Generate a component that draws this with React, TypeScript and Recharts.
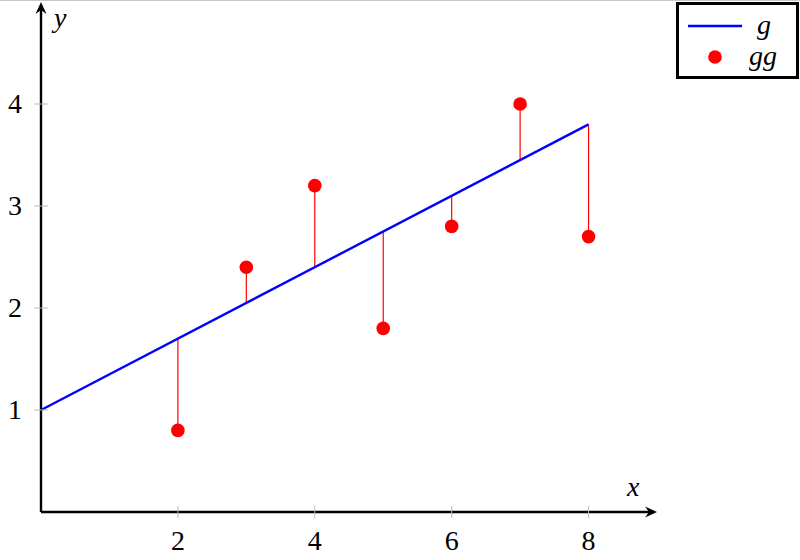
import React from 'react';
import {
  ComposedChart,
  Line,
  Scatter,
  XAxis,
  YAxis,
  ReferenceLine,
} from 'recharts';

// fitted line g (endpoints)
const lineX = [0, 8];
const lineY = [1, 3.8];

// observations gg
const pointX = [2, 3, 4, 5, 6, 7, 8];
const pointY = [0.8, 2.4, 3.2, 1.8, 2.8, 4.0, 2.7];
// value of g at each observation (where the residual stems meet the line)
const fitY = [1.7, 2.05, 2.4, 2.75, 3.1, 3.45, 3.8];

const xTicks = [2, 4, 6, 8];
const yTicks = [1, 2, 3, 4];

const lineData = lineX.map((x, i) => ({ x, y: lineY[i] }));
const pointData = pointX.map((x, i) => ({ x, y: pointY[i] }));

const FONT = '"Liberation Serif", "DejaVu Serif", serif';

const XTick = (props: any) => {
  const { x, y, payload } = props;
  return (
    <g>
      <line x1={x} x2={x} y1={y - 6} y2={y + 6} stroke="#bbb" strokeWidth={1} />
      <text x={x} y={y + 38} textAnchor="middle" fontFamily={FONT} fontSize={28} fill="#000">
        {payload.value}
      </text>
    </g>
  );
};

const YTick = (props: any) => {
  const { x, y, payload } = props;
  return (
    <g>
      <line x1={x - 7} x2={x + 7} y1={y} y2={y} stroke="#bbb" strokeWidth={1} />
      <text x={x - 19} y={y + 9} textAnchor="end" fontFamily={FONT} fontSize={28} fill="#000">
        {payload.value}
      </text>
    </g>
  );
};

const Arrow = (props: any) => {
  const { x1, y1, x2, y2 } = props;
  const dx = x2 - x1;
  const dy = y2 - y1;
  const len = Math.hypot(dx, dy) || 1;
  const ux = dx / len;
  const uy = dy / len;
  const tipX = x2;
  const tipY = y2;
  const baseX = tipX - ux * 12;
  const baseY = tipY - uy * 12;
  const px = -uy * 5.5;
  const py = ux * 5.5;
  const notchX = tipX - ux * 8;
  const notchY = tipY - uy * 8;
  return (
    <g>
      <line x1={x1} y1={y1} x2={tipX - ux * 4} y2={tipY - uy * 4} stroke="#000" strokeWidth={2.4} />
      <path
        d={`M${tipX},${tipY} L${baseX + px},${baseY + py} L${notchX},${notchY} L${baseX - px},${baseY - py} Z`}
        fill="#000"
      />
    </g>
  );
};

const Dot = (props: any) => {
  const { cx, cy } = props;
  return <circle cx={cx} cy={cy} r={6.8} fill="#ff0000" />;
};

export default function App() {
  return (
    <div style={{ position: 'absolute', left: 0, top: 0, width: 800, height: 560, background: '#fff' }}>
      <div style={{ position: 'absolute', left: 0, top: 0, width: 800, height: 1, background: '#c8c8c8' }} />
      <ComposedChart
        width={800}
        height={560}
        margin={{ top: 2, right: 143, left: 0, bottom: 0 }}
      >
        <XAxis
          type="number"
          dataKey="x"
          domain={[0, 9]}
          ticks={xTicks}
          axisLine={false}
          tickLine={false}
          tickSize={0}
          tickMargin={0}
          height={48}
          tick={<XTick />}
          allowDataOverflow
        />
        <YAxis
          type="number"
          dataKey="y"
          domain={[0, 5]}
          ticks={yTicks}
          axisLine={false}
          tickLine={false}
          tickSize={0}
          tickMargin={0}
          width={41}
          tick={<YTick />}
          allowDataOverflow
        />
        {pointX.map((x, i) => (
          <ReferenceLine
            key={`res-${i}`}
            segment={[{ x, y: pointY[i] }, { x, y: fitY[i] }]}
            stroke="#ff0000"
            strokeWidth={1.2}
            ifOverflow="visible"
          />
        ))}
        <Line
          data={lineData}
          dataKey="y"
          type="linear"
          stroke="#0000ff"
          strokeWidth={2.4}
          dot={false}
          activeDot={false}
          isAnimationActive={false}
        />
        <Scatter data={pointData} dataKey="y" fill="#ff0000" shape={<Dot />} isAnimationActive={false} />
        <ReferenceLine segment={[{ x: 0, y: 0 }, { x: 9, y: 0 }]} shape={<Arrow />} ifOverflow="visible" />
        <ReferenceLine segment={[{ x: 0, y: 0 }, { x: 0, y: 5 }]} shape={<Arrow />} ifOverflow="visible" />
      </ComposedChart>
      <span style={{ position: 'absolute', left: 627, top: 473, fontFamily: FONT, fontStyle: 'italic', fontSize: 28, lineHeight: 1 }}>x</span>
      <span style={{ position: 'absolute', left: 54, top: 4, fontFamily: FONT, fontStyle: 'italic', fontSize: 28, lineHeight: 1 }}>y</span>
      <div
        style={{
          position: 'absolute',
          left: 676,
          top: 2,
          width: 117,
          height: 71,
          border: '3px solid #000',
          background: '#fff',
        }}
      >
        <svg width={117} height={71} style={{ position: 'absolute', left: 0, top: 0 }}>
          <line x1={9} x2={63} y1={21} y2={21} stroke="#0000ff" strokeWidth={2.4} />
          <circle cx={36} cy={52} r={6.8} fill="#ff0000" />
          <text x={78} y={29} fontFamily={FONT} fontStyle="italic" fontSize={28}>g</text>
          <text x={70} y={60} fontFamily={FONT} fontStyle="italic" fontSize={28}>gg</text>
        </svg>
      </div>
    </div>
  );
}
